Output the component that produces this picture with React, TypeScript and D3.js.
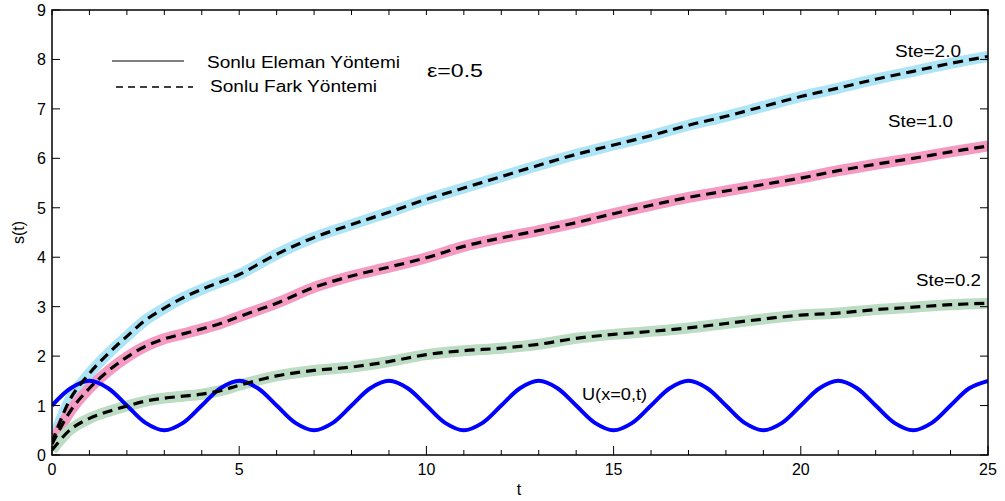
import React from "react";
import * as d3 from "d3";

const tGrid = [0, 0.5, 1, 1.5, 2, 2.5, 3, 3.5, 4, 4.5, 5, 6, 7, 8, 9, 10, 11, 12, 13, 14, 15, 16, 17, 18, 19, 20, 21, 22, 23, 24, 25];
const ste20 = [0.25, 1.15, 1.65, 2.05, 2.4, 2.73, 2.97, 3.18, 3.35, 3.5, 3.65, 4.06, 4.4, 4.66, 4.91, 5.17, 5.4, 5.63, 5.86, 6.08, 6.27, 6.46, 6.67, 6.85, 7.05, 7.25, 7.42, 7.6, 7.76, 7.92, 8.06];
const ste10 = [0.22, 0.9, 1.35, 1.7, 1.98, 2.2, 2.35, 2.45, 2.55, 2.66, 2.8, 3.07, 3.39, 3.62, 3.8, 3.99, 4.22, 4.39, 4.54, 4.7, 4.88, 5.05, 5.21, 5.34, 5.47, 5.6, 5.75, 5.88, 6.0, 6.13, 6.25];
const ste02 = [0.1, 0.52, 0.74, 0.88, 0.99, 1.09, 1.15, 1.19, 1.23, 1.3, 1.41, 1.6, 1.71, 1.78, 1.89, 2.03, 2.11, 2.16, 2.24, 2.36, 2.44, 2.5, 2.57, 2.66, 2.75, 2.83, 2.87, 2.94, 2.99, 3.04, 3.07];

const uTimes = d3.range(0, 25.01, 0.5);
const uValues = [
  1, 1.35, 1.5, 1.35, 1, 0.65, 0.5, 0.65,
  1, 1.35, 1.5, 1.35, 1, 0.65, 0.5, 0.65,
  1, 1.35, 1.5, 1.35, 1, 0.65, 0.5, 0.65,
  1, 1.35, 1.5, 1.35, 1, 0.65, 0.5, 0.65,
  1, 1.35, 1.5, 1.35, 1, 0.65, 0.5, 0.65,
  1, 1.35, 1.5, 1.35, 1, 0.65, 0.5, 0.65,
  1, 1.35, 1.5,
];

const xTicks = [0, 5, 10, 15, 20, 25];
const xMinor = d3.range(0, 26, 1);
const yTicks = [0, 1, 2, 3, 4, 5, 6, 7, 8, 9];

const series = [
  { name: "Ste=2.0", values: ste20, color: "#aee5f6" },
  { name: "Ste=1.0", values: ste10, color: "#f59bc3" },
  { name: "Ste=0.2", values: ste02, color: "#bddcc4" },
];

const W = 1005;
const H = 501;
const left = 52;
const right = 988;
const top = 10;
const bottom = 455;

export default function App() {
  const x = d3.scaleLinear().domain([0, 25]).range([left, right]);
  const y = d3.scaleLinear().domain([0, 9]).range([bottom, top]);
  const line = d3
    .line<[number, number]>()
    .x((d) => x(d[0]))
    .y((d) => y(d[1]))
    .curve(d3.curveCatmullRom.alpha(0.5));
  const font = "'Liberation Sans', Arial, sans-serif";

  return (
    <svg width={W} height={H} style={{ position: "absolute", left: 0, top: 0, background: "#fff" }} fontFamily={font}>
      <defs>
        <clipPath id="plot">
          <rect x={left} y={top} width={right - left} height={bottom - top} />
        </clipPath>
      </defs>
      <g clipPath="url(#plot)">
        {series.map((s) => (
          <path
            key={s.name + "band"}
            d={line(tGrid.map((t, i) => [t, s.values[i]] as [number, number])) || ""}
            fill="none"
            stroke={s.color}
            strokeWidth={11}
          />
        ))}
        <path
          d={line(uTimes.map((t, i) => [t, uValues[i]] as [number, number])) || ""}
          fill="none"
          stroke="#0000ff"
          strokeWidth={4}
        />
        {series.map((s) => (
          <path
            key={s.name + "dash"}
            d={line(tGrid.map((t, i) => [t, s.values[i]] as [number, number])) || ""}
            fill="none"
            stroke="#000"
            strokeWidth={3.2}
            strokeDasharray="10,6"
          />
        ))}
      </g>
      {/* frame */}
      <rect x={left} y={top} width={right - left} height={bottom - top} fill="none" stroke="#000" strokeWidth={1.5} />
      {/* x ticks */}
      {xMinor.map((t) => {
        const major = t % 5 === 0;
        return (
          <g key={"xt" + t}>
            <line x1={x(t)} x2={x(t)} y1={bottom} y2={bottom - (major ? 9 : 5)} stroke="#000" strokeWidth={1} />
            <line x1={x(t)} x2={x(t)} y1={top} y2={top + 5} stroke="#000" strokeWidth={1} />
          </g>
        );
      })}
      {xTicks.map((t) => (
        <text key={"xl" + t} x={x(t)} y={bottom + 20} textAnchor="middle" fontSize={16} fill="#000">
          {t}
        </text>
      ))}
      {yTicks.map((v) => (
        <g key={"yt" + v}>
          <line x1={left} x2={left + 8} y1={y(v)} y2={y(v)} stroke="#000" strokeWidth={1} />
          <line x1={right} x2={right - 8} y1={y(v)} y2={y(v)} stroke="#000" strokeWidth={1} />
          <text x={left - 6} y={y(v) + 6} textAnchor="end" fontSize={16} fill="#000">
            {v}
          </text>
        </g>
      ))}
      <text x={519} y={495} textAnchor="middle" fontSize={16} fill="#000">t</text>
      <text transform={`translate(24,${(top + bottom) / 2}) rotate(-90)`} textAnchor="middle" fontSize={16} fill="#000">
        s(t)
      </text>
      {/* legend */}
      <line x1={112} x2={184} y1={61} y2={61} stroke="#000" strokeWidth={1} />
      <line x1={116} x2={193} y1={87} y2={87} stroke="#000" strokeWidth={1.6} strokeDasharray="7,5" />
      <text x={207} y={68} fontSize={16} fill="#000" textLength={193} lengthAdjust="spacingAndGlyphs">Sonlu Eleman Yöntemi</text>
      <text x={210} y={92} fontSize={16} fill="#000" textLength={167} lengthAdjust="spacingAndGlyphs">Sonlu Fark Yöntemi</text>
      <text x={427} y={77} fontSize={19} fill="#000" textLength={56} lengthAdjust="spacingAndGlyphs">ε=0.5</text>
      {/* annotations */}
      <text x={895} y={57} fontSize={16} fill="#000" textLength={66} lengthAdjust="spacingAndGlyphs">Ste=2.0</text>
      <text x={888} y={127} fontSize={16} fill="#000" textLength={65} lengthAdjust="spacingAndGlyphs">Ste=1.0</text>
      <text x={916} y={286} fontSize={16} fill="#000" textLength={65} lengthAdjust="spacingAndGlyphs">Ste=0.2</text>
      <text x={582} y={400} fontSize={16} fill="#000" textLength={65} lengthAdjust="spacingAndGlyphs">U(x=0,t)</text>
    </svg>
  );
}
